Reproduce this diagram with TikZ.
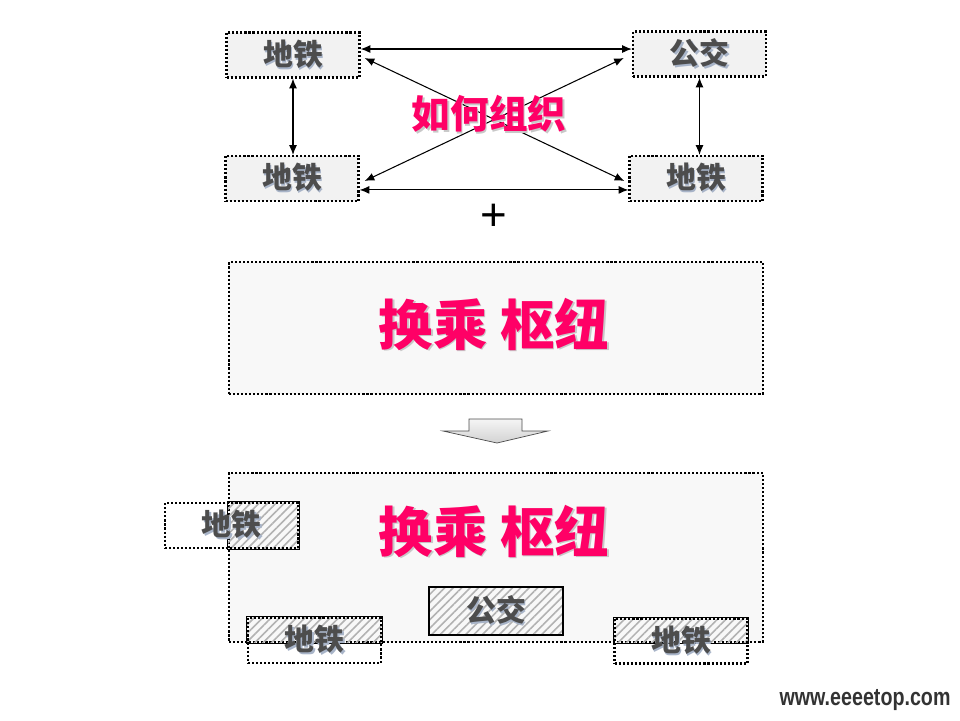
\documentclass[tikz,border=0pt]{standalone}
\usepackage{fontspec}
\newfontfamily\cjk{Noto Sans CJK SC}
\setsansfont{Liberation Sans}
\usepackage{tikz}
\usetikzlibrary{positioning,arrows.meta,patterns.meta,backgrounds}

\definecolor{boxfill}{HTML}{F2F2F2}
\definecolor{hubfill}{HTML}{F8F8F8}
\definecolor{stationtxt}{HTML}{4D4D4D}
\definecolor{txtshadow}{HTML}{A8B4C8}
\definecolor{hubpink}{HTML}{FF0066}
\definecolor{pinkshadow}{HTML}{C8C8C8}
\newcommand{\shadowed}[2]{\rlap{\kern0.9pt\raisebox{-0.9pt}{\color{#1}#2}}#2}

\begin{document}
\begin{tikzpicture}[
            x=0.02cm, y=-0.02cm,
            >={Latex[length=5.5pt,width=4.5pt]},
            dots/.style={draw=black, line width=1.3pt, dash pattern=on 1.2pt off 1.1pt},
            dotbox/.style={dots, inner sep=0pt,
                minimum width=2.66cm, minimum height=0.9cm,
                text=stationtxt, font=\cjk\bfseries\fontsize{17pt}{17pt}\selectfont},
            station/.style={dotbox, fill=boxfill},
            hub/.style={dots, fill=hubfill, minimum width=10.68cm, inner sep=0pt},
            hubtext/.style={text=hubpink, font=\cjk\bfseries\fontsize{31pt}{31pt}\selectfont},
            hatched/.style={draw=black, solid, line width=0.6pt,
                pattern={Lines[angle=45,distance=3.4pt,line width=0.9pt]}, pattern color=gray!60},
            link/.style={<->, line width=0.6pt}
        ]
            \useasboundingbox (0,0) rectangle (960,720);

            % how to organise the transfers
            \node[station] (tl) at (293,55) {\shadowed{txtshadow}{地铁}};
            \node[station] (tr) at (699.5,54) {\shadowed{txtshadow}{公交}};
            \node[station] (ml) at (292,178.5) {\shadowed{txtshadow}{地铁}};
            \node[station] (mr) at (696,178.5) {\shadowed{txtshadow}{地铁}};

            \draw[link] ([yshift=3.4pt]tl.east) -- ([yshift=3.4pt]tl.east -| tr.west);
            \draw[link] ([yshift=-6.5pt]ml.east) -- ([yshift=-6.5pt]ml.east -| mr.west);
            \draw[link] (tl.south) -- (tl.south |- ml.north);
            \draw[link] (tr.south) -- (tr.south |- mr.north);
            \draw[link] ([shift={(4,3)}]tl.east) -- ([shift={(-4,2.5)}]mr.west);
            \draw[link] ([shift={(-8,4)}]tr.west) -- ([shift={(5,2.5)}]ml.east);

            \node[hubtext, font=\cjk\bfseries\fontsize{22pt}{22pt}\selectfont] (how) at (489,115)
                {\shadowed{pinkshadow}{如何组织}};
            \node[font=\sffamily\fontsize{26pt}{26pt}\selectfont] (plus) at (494,217) {+};

            % the hub
            \node[hub, minimum height=2.64cm] (hub1) at (496,328) {};
            \node[hubtext] (hubname1) at (494,325) {\shadowed{pinkshadow}{换乘 枢纽}};

            \draw[draw=black!70, top color=gray!8, bottom color=gray!35]
                (469,419) -- (522,419) -- (522,431) -- (548,431) -- (497,443)
                -- (443,431) -- (469,431) -- cycle;

            % lines moved into the hub
            \begin{scope}[on background layer]
                \node[hub, minimum height=3.38cm] (hub2) at (496,557.5) {};
            \end{scope}
            \node[hubtext] (hubname2) at (494,532) {\shadowed{pinkshadow}{换乘 枢纽}};

            \node[dotbox] (w1) at (231.5,525.5) {\shadowed{txtshadow}{地铁}};
            \node[dotbox] (w2) at (314.5,640.5) {\shadowed{txtshadow}{地铁}};
            \node[dotbox] (w3) at (681,641) {\shadowed{txtshadow}{地铁}};
            \node[dotbox, hatched, minimum width=2.68cm, minimum height=0.96cm] (bus) at (496,611)
                {\shadowed{txtshadow}{公交}};

            \begin{scope}[on background layer]
                \draw[hatched] (hub2.west |- w1.north) rectangle (w1.south east);
                \draw[hatched] (w2.north west) rectangle (w2.east |- hub2.south);
                \draw[hatched] (w3.north west) rectangle (w3.east |- hub2.south);
            \end{scope}

            \node[text=black!80, font=\sffamily\bfseries\fontsize{14pt}{14pt}\selectfont] (site) at (865,700)
                {\scalebox{0.8}[1]{www.eeeetop.com}};
        \end{tikzpicture}
\end{document}
